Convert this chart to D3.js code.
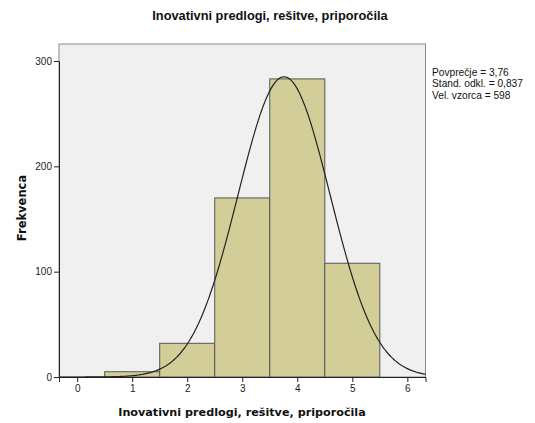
<!DOCTYPE html>
<html>
<head>
<meta charset="utf-8">
<script src="https://cdn.jsdelivr.net/npm/d3@7"></script>
<style>
  body { margin: 0; background: #fff; }
  svg { display: block; }
</style>
</head>
<body>
<svg id="chart" width="535" height="423"></svg>
<script>
// Histogram data: response categories 1–5 and their frequencies
const categories = [1, 2, 3, 4, 5];
const frequencies = [5, 32, 170, 283, 108];
const xTicks = [0, 1, 2, 3, 4, 5, 6];
const yTicks = [0, 100, 200, 300];
const statsLines = ["Povprečje = 3,76", "Stand. odkl. = 0,837", "Vel. vzorca = 598"];
const mean = 3.76, sd = 0.837, n = 598;

const svg = d3.select("#chart");
const plot = { left: 59, top: 44, right: 425.5, bottom: 377 };

const x = d3.scaleLinear().domain([-0.33, 6.33]).range([plot.left, plot.right]);
const y = d3.scaleLinear().domain([0, 300]).range([plot.bottom, plot.bottom - 316]);

// Plot background
svg.append("rect")
  .attr("x", plot.left).attr("y", plot.top)
  .attr("width", plot.right - plot.left).attr("height", plot.bottom - plot.top)
  .attr("fill", "#f0f0f0").attr("stroke", "#8a8a8a").attr("stroke-width", 1);

// Bars
svg.append("g").selectAll("rect")
  .data(categories)
  .join("rect")
  .attr("x", d => x(d - 0.5))
  .attr("y", (d, i) => y(frequencies[i]))
  .attr("width", d => x(d + 0.5) - x(d - 0.5))
  .attr("height", (d, i) => y(0) - y(frequencies[i]))
  .attr("fill", "#d3ce98")
  .attr("stroke", "#555")
  .attr("stroke-width", 1);

// Fitted normal curve scaled to counts (bin width 1)
const pdf = v => n * Math.exp(-0.5 * ((v - mean) / sd) ** 2) / (sd * Math.sqrt(2 * Math.PI));
const curvePts = d3.range(-0.33, 6.331, 0.02).map(v => [v, pdf(v)]);
svg.append("path")
  .datum(curvePts)
  .attr("fill", "none")
  .attr("stroke", "#222")
  .attr("stroke-width", 1.2)
  .attr("d", d3.line().x(d => x(d[0])).y(d => y(d[1])));

// Axes
const xAxis = svg.append("g")
  .attr("transform", `translate(0,${plot.bottom})`)
  .call(d3.axisBottom(x).tickValues(xTicks).tickSize(5).tickPadding(3).tickFormat(d3.format("d")));
const yAxis = svg.append("g")
  .attr("transform", `translate(${plot.left},0)`)
  .call(d3.axisLeft(y).tickValues(yTicks).tickSize(5).tickPadding(2).tickFormat(d3.format("d")));

[xAxis, yAxis].forEach(g => {
  g.select(".domain").attr("stroke", "#222");
  g.selectAll(".tick line").attr("stroke", "#222");
  g.selectAll(".tick text")
    .attr("font-family", "Liberation Sans, Arial, sans-serif")
    .attr("font-size", 10).attr("fill", "#222");
});

// Title
svg.append("text")
  .attr("x", 270).attr("y", 20)
  .attr("text-anchor", "middle")
  .attr("font-family", "Liberation Sans, Arial, sans-serif")
  .attr("font-size", 12.8).attr("font-weight", "bold").attr("fill", "#111")
  .text("Inovativni predlogi, rešitve, priporočila");

// Axis titles
svg.append("text")
  .attr("x", 242).attr("y", 416)
  .attr("text-anchor", "middle")
  .attr("font-family", "DejaVu Sans, sans-serif")
  .attr("font-size", 11.2).attr("font-weight", "bold").attr("fill", "#111")
  .text("Inovativni predlogi, rešitve, priporočila");

svg.append("text")
  .attr("transform", "translate(25.5,208) rotate(-90)")
  .attr("text-anchor", "middle")
  .attr("font-family", "DejaVu Sans, sans-serif")
  .attr("font-size", 11.5).attr("font-weight", "bold").attr("fill", "#111")
  .text("Frekvenca");

// Summary statistics
svg.append("g").selectAll("text")
  .data(statsLines)
  .join("text")
  .attr("x", 432)
  .attr("y", (d, i) => 75.5 + i * 11.5)
  .attr("font-family", "Liberation Sans, Arial, sans-serif")
  .attr("font-size", 10.2).attr("fill", "#111")
  .text(d => d);
</script>
</body>
</html>
